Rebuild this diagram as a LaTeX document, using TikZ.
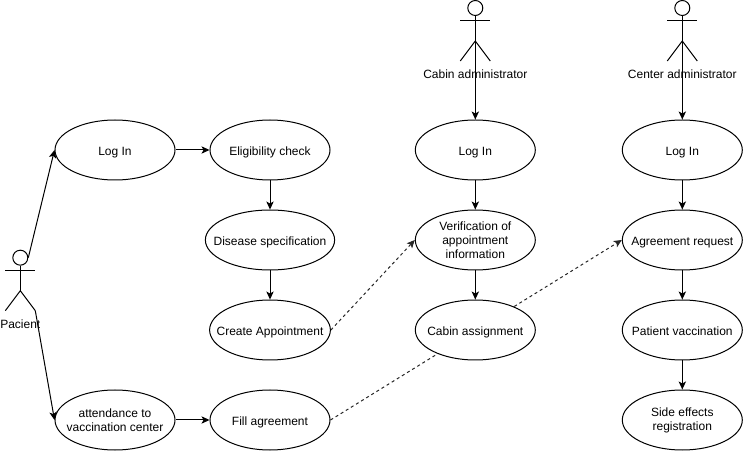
\documentclass[tikz,border=0pt]{standalone}
\usepackage{fontspec}
\setmainfont{Liberation Sans}
\usetikzlibrary{arrows.meta,shapes.geometric,backgrounds}

\begin{document}
\begin{tikzpicture}[
    x=0.75pt, y=-0.75pt, line width=0.75pt,
    longcase/.style={draw, ellipse, fill=white, minimum width=90pt, minimum height=45pt, inner xsep=-8pt, inner ysep=-1pt, align=center, font=\fontsize{9}{10.5}\selectfont},
    usecase/.style={longcase, execute at begin node={\rule{0pt}{10pt}}, execute at end node={\rule[-2pt]{0pt}{2pt}}},
    actorname/.style={inner sep=0pt, font=\fontsize{9}{10.5}\selectfont},
    arr/.style={-{Stealth[length=6pt,width=5.5pt,inset=1.5pt]}, line width=0.75pt},
    dotarr/.style={arr, dash pattern=on 2.25pt off 2.25pt, draw=black!85},
    actor/.pic={
        \node[draw, circle, minimum size=11.25pt, inner sep=0pt] (-head) at (0,0) {};
        \coordinate (-hip) at (0,33);
        \coordinate (-rleg) at (15,53);
        \draw (-head) -- (-hip);
        \draw (-15,12.5) -- (15,12.5);
        \draw (-15,53) -- (-hip) -- (-rleg);
    }
]
\useasboundingbox (0,0) rectangle (743,452);

\pic (pacient) at (20.3,257.7) {actor};
\pic (cabinadmin) at (475.3,8) {actor};
\pic (centeradmin) at (682.3,8) {actor};
\node[actorname] (pacientname) at (20.3,324) {Pacient};
\node[actorname] (cabinname) at (475.3,74) {Cabin administrator};
\node[actorname] (centername) at (682.3,74) {Center administrator};

\node[usecase] (login) at (115,150) {Log In};
\node[usecase] (eligibility) at (270,150) {Eligibility check};
\node[usecase] (disease) at (270,240) {Disease specification};
\node[usecase] (create) at (270,330) {Create Appointment};
\node[longcase] (attendance) at (115,420) {attendance to\\vaccination center};
\node[usecase] (fill) at (270,420) {Fill agreement};

\node[usecase] (cabinlogin) at (475.3,150) {Log In};
\node[longcase] (verification) at (475.3,240) {Verification of\\appointment\\information};
\node[usecase] (cabin) at (475.3,330) {Cabin assignment};

\node[usecase] (centerlogin) at (682.3,150) {Log In};
\node[usecase] (agreement) at (682.3,240) {Agreement request};
\node[usecase] (vaccination) at (682.3,330) {Patient vaccination};
\node[longcase] (effects) at (682.3,420) {Side effects\\registration};

\draw[arr] (pacient-head.east) -- (login.west);
\draw[arr] (pacient-rleg) -- (attendance.west);
\draw[arr] (login) -- (eligibility);
\draw[arr] (eligibility) -- (disease);
\draw[arr] (disease) -- (create);
\draw[arr] (attendance) -- (fill);

\draw[arr] (cabinadmin-hip) -- (cabinlogin);
\draw[arr] (cabinlogin) -- (verification);
\draw[arr] (verification) -- (cabin);
\draw[arr] (centeradmin-hip) -- (centerlogin);
\draw[arr] (centerlogin) -- (agreement);
\draw[arr] (agreement) -- (vaccination);
\draw[arr] (vaccination) -- (effects);

\draw[dotarr] (create.east) -- (verification.west);
\begin{scope}[on background layer]
\draw[dotarr] (fill.east) -- (agreement.west);
\end{scope}
\end{tikzpicture}
\end{document}
